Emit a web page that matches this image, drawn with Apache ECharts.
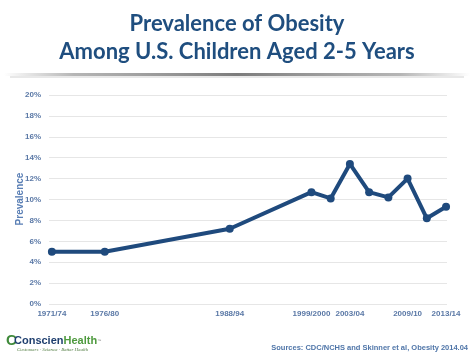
<!DOCTYPE html>
<html>
<head>
<meta charset="utf-8">
<script src="https://cdn.jsdelivr.net/npm/echarts@6/dist/echarts.min.js"></script>
<style>
html,body{margin:0;padding:0;background:#fff;}
#chart{width:474px;height:356px;}
</style>
</head>
<body>
<div id="chart"></div>
<script>
// Survey periods (NHANES) and obesity prevalence (%) among children aged 2-5
const periods = ["1971/74","1976/80","1988/94","1999/2000","2001/02","2003/04","2005/06","2007/08","2009/10","2011/12","2013/14"];
const prevalence = [5.0, 5.0, 7.2, 10.7, 10.1, 13.4, 10.7, 10.2, 12.0, 8.2, 9.3];
// Periods shown as x-axis tick labels
const tickLabels = ["1971/74","1976/80","1988/94","1999/2000","2003/04","2009/10","2013/14"];

// midpoint year of a survey period string like "1971/74" or "1999/2000"
function midYear(p){
  const [a,b] = p.split("/");
  const start = parseInt(a,10);
  let end;
  if (b.length === 4) end = parseInt(b,10);
  else end = Math.floor(start/100)*100 + parseInt(b,10);
  if (end < start) end += 100;
  return (start + end) / 2;
}
const xs = periods.map(midYear);
const tickXs = tickLabels.map(midYear);
const labelByX = {};
tickLabels.forEach((l,i)=>{ labelByX[tickXs[i]] = l; });

const chart = echarts.init(document.getElementById('chart'), null, {renderer:'canvas'});
const axisColor = '#5a78a6';
chart.setOption({
  backgroundColor:'#ffffff',
  animation:false,
  title:{
    text:'Prevalence of Obesity\nAmong U.S. Children Aged 2-5 Years',
    left:'center', top:5,
    textStyle:{fontFamily:'Lato', fontWeight:'bold', fontSize:22, color:'#1f4e7f', lineHeight:28}
  },
  grid:{left:49, right:27, top:95, bottom:52, outerBoundsMode:'none', containLabel:false},
  xAxis:{
    type:'value',
    min: 1972.2, max: 2013.6,
    splitLine:{show:false},
    axisLine:{show:false},
    axisTick:{show:false},
    axisLabel:{
      customValues: tickXs,
      formatter: v => labelByX[v] || '',
      color: axisColor, fontFamily:'Liberation Sans', fontWeight:'bold', fontSize:8, margin:6
    }
  },
  yAxis:{
    type:'value', min:0, max:20, interval:2,
    axisLine:{show:false}, axisTick:{show:false},
    splitLine:{lineStyle:{color:'#e6e6e6', width:1}},
    axisLabel:{formatter:'{value}%', color:axisColor, fontFamily:'Liberation Sans', fontWeight:'bold', fontSize:8, margin:8}
  },
  series:[{
    type:'line',
    data: xs.map((x,i)=>[x, prevalence[i]]),
    lineStyle:{color:'#1f4a7d', width:4},
    itemStyle:{color:'#1f4a7d'},
    symbol:'circle', symbolSize:8,
    z:3
  }],
  graphic:[
    {type:'text', x:20, y:199, rotation:Math.PI/2,
     style:{text:'Prevalence', fontFamily:'Liberation Sans', fontWeight:'bold', fontSize:10, fill:'#5a7fb5', align:'center', verticalAlign:'middle'}},
    {type:'rect', shape:{x:4, y:73, width:466, height:3},
     style:{fill:new echarts.graphic.LinearGradient(0,0,1,0,[
       {offset:0,color:'rgba(150,150,150,0)'},
       {offset:0.15,color:'rgba(150,150,150,0.7)'},
       {offset:0.5,color:'rgba(110,110,110,0.9)'},
       {offset:0.85,color:'rgba(150,150,150,0.7)'},
       {offset:1,color:'rgba(150,150,150,0)'}])}},
    {type:'rect', shape:{x:10, y:76, width:454, height:2},
     style:{fill:'rgba(190,190,190,0.35)'}},
    {type:'text', left:6, top:333,
     style:{text:'C', fontFamily:'Liberation Sans', fontWeight:'bold', fontSize:15, fill:'#3f8a3a'}},
    {type:'text', left:14, top:335,
     style:{rich:{a:{fontFamily:'Liberation Sans', fontWeight:'bold', fontSize:11, fill:'#1f3f6f'},
                  b:{fontFamily:'Liberation Sans', fontWeight:'bold', fontSize:11, fill:'#4e9a3e'},
                  c:{fontFamily:'Liberation Sans', fontSize:4, fill:'#888'}},
            text:'{a|Conscien}{b|Health}{c|™}'}},
    {type:'text', left:17, top:347,
     style:{text:'Customers · Science · Better Health', fontFamily:'Liberation Serif', fontStyle:'italic', fontSize:5, fill:'#4e7a3e'}},
    {type:'text', right:6, top:344,
     style:{text:'Sources: CDC/NCHS and Skinner et al, Obesity 2014.04', fontFamily:'Liberation Sans', fontWeight:'bold', fontSize:7.5, fill:'#4f75a8'}}
  ]
});
</script>
</body>
</html>
